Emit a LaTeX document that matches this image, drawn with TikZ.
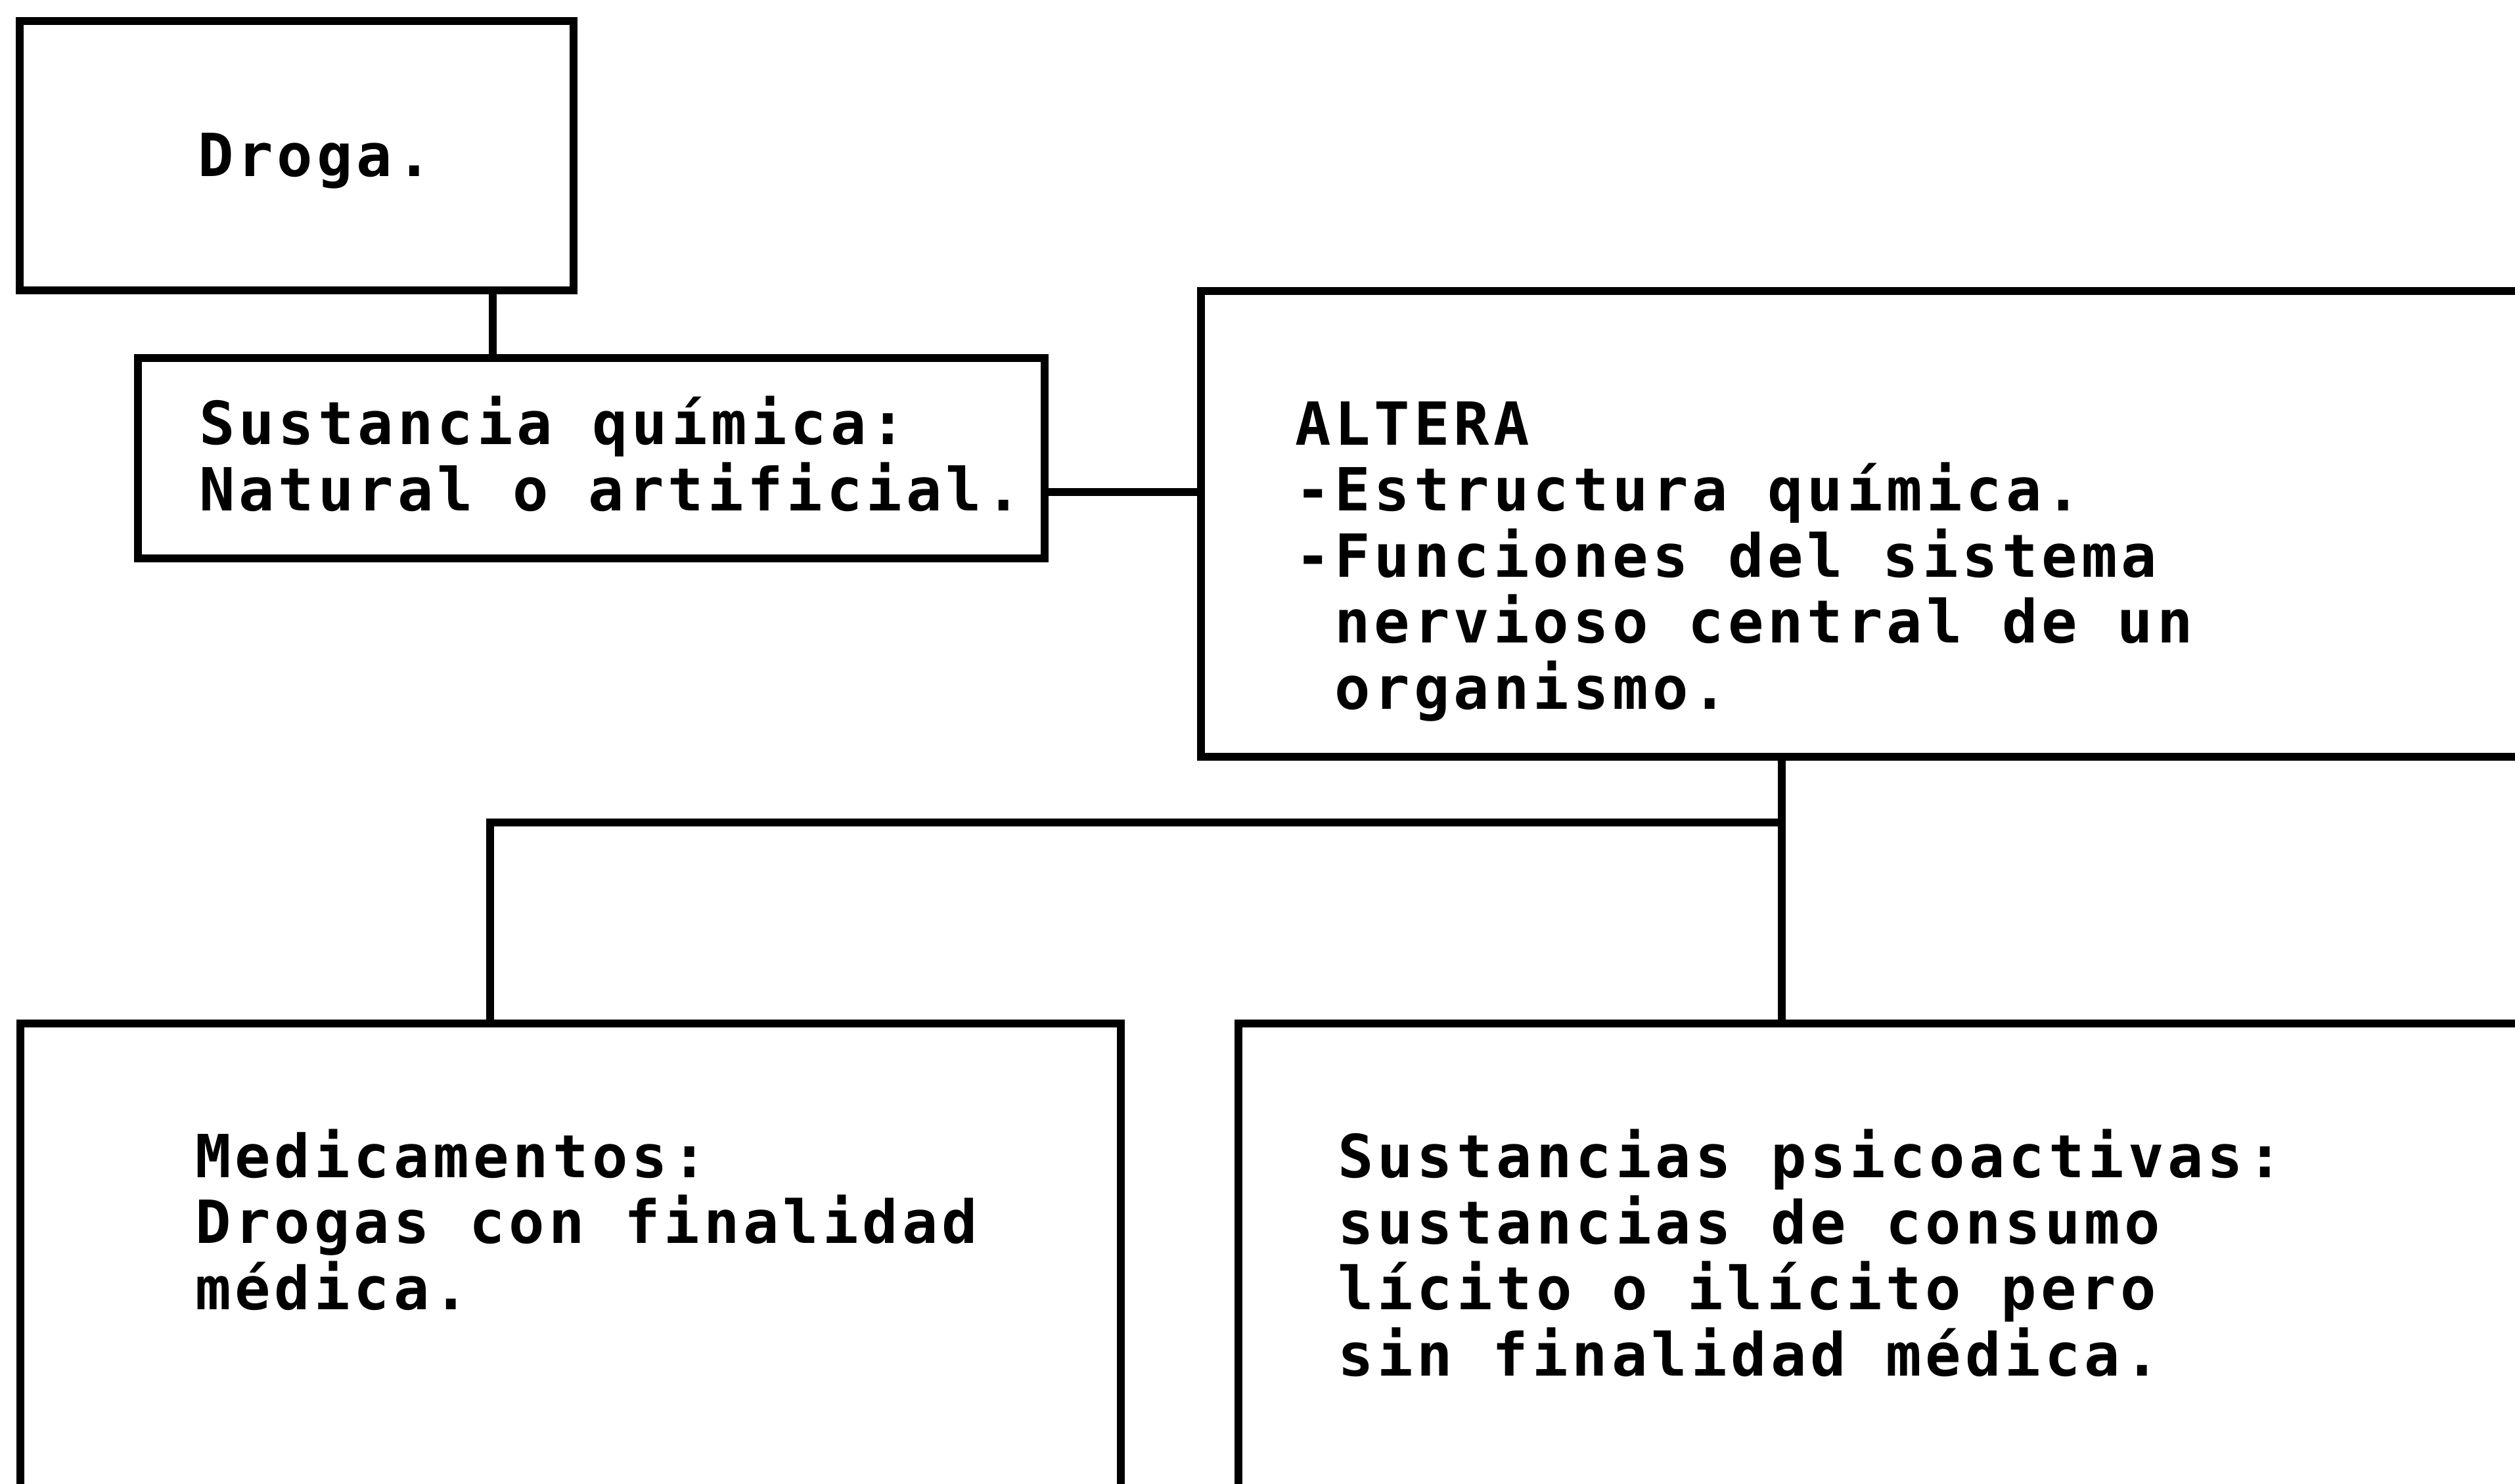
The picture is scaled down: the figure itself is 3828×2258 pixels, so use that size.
\documentclass[tikz,border=0pt]{standalone}
\usepackage{fontspec}
\newfontfamily\monof[LetterSpace=6.6]{DejaVu Sans Mono}
\newcommand\boxfont{\monof\bfseries\fontsize{9.05pt}{10.05pt}\selectfont\spaceskip=6.05pt\relax}
\tikzset{
  box/.style={draw, line width=1.2pt, rectangle, inner sep=0pt, outer sep=0pt, anchor=north west},
  txt/.style={anchor=base west, inner sep=0pt, outer sep=0pt, align=left, font=\boxfont},
  link/.style={line width=1.2pt}
}
\begin{document}
\begin{tikzpicture}[x=0.1pt,y=-0.1pt]
\useasboundingbox (0,0) rectangle (3828,2258);
\fill[white] (0,0) rectangle (3828,2258);
\clip (0,0) rectangle (3828,2258);
% boxes
\node[box, minimum width=84.3pt, minimum height=41pt] (droga) at (30,32) {};
\node[box, minimum width=138pt, minimum height=30.5pt] (sust) at (210,545) {};
\node[box, minimum width=207.2pt, minimum height=70.9pt] (altera) at (1828,443) {};
\node[box, minimum width=167.5pt, minimum height=70.8pt] (medic) at (31,1558) {};
\node[box, minimum width=201.5pt, minimum height=70.8pt] (psico) at (1885,1558) {};
% texts (anchored at the baseline of their last line)
\node[txt] (tdroga) at (301,268) {Droga.};
\node[txt] (tsust) at (303,777) {Sustancia química:\\Natural o artificial.};
\node[txt] (taltera) at (1971,1079) {ALTERA\\-Estructura química.\\-Funciones del sistema\\\hspace*{6.05pt}nervioso central de un\\\hspace*{6.05pt}organismo.};
\node[txt] (tmedic) at (297,1993) {Medicamentos:\\Drogas con finalidad\\médica.};
\node[txt] (tpsico) at (2036,2094) {Sustancias psicoactivas:\\sustancias de consumo\\lícito o ilícito pero\\sin finalidad médica.};
% connector positions
\coordinate (j1) at (750,0);
\coordinate (j2) at (0,749);
\coordinate (j3) at (2712,0);
\coordinate (j4) at (746,0);
\coordinate (br) at (2712,1252);
\draw[link] (droga.south -| j1) -- (sust.north -| j1);
\draw[link] (sust.east |- j2) -- (altera.west |- j2);
\draw[link] (altera.south -| j3) -- (psico.north -| j3);
\draw[link] (br) -- (br -| j4) -- (medic.north -| j4);
\end{tikzpicture}
\end{document}
